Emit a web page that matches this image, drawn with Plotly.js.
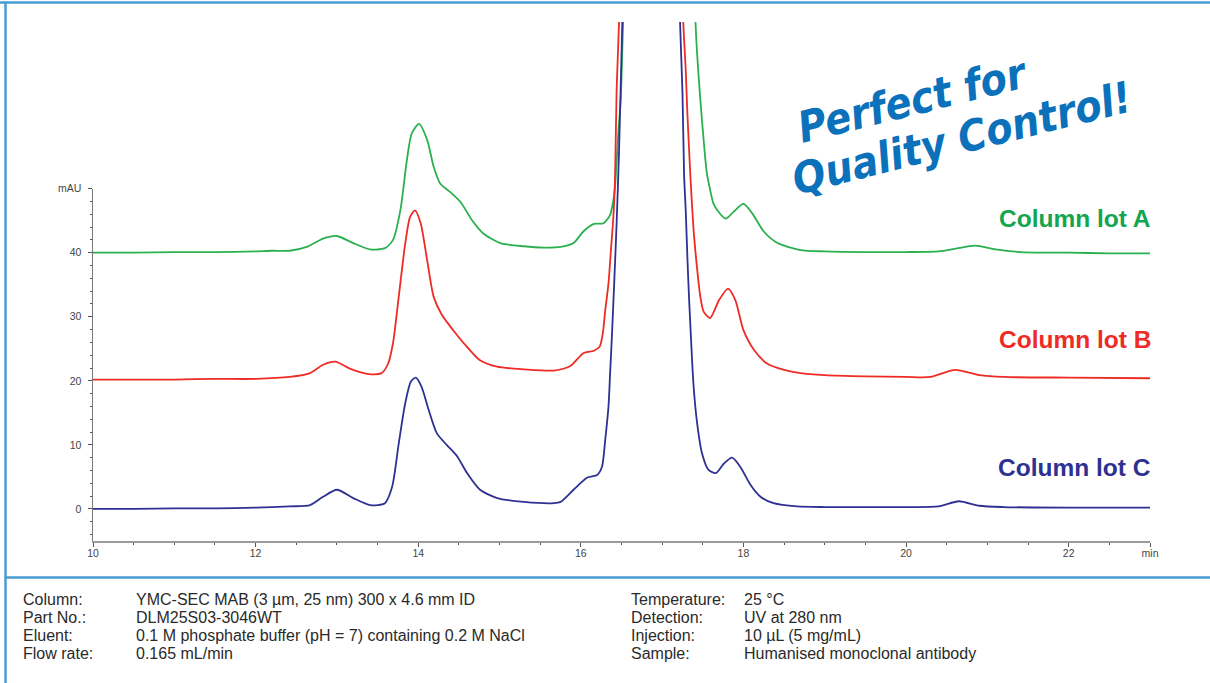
<!DOCTYPE html>
<html>
<head>
<meta charset="utf-8">
<script src="https://cdn.plot.ly/plotly-3.0.1.min.js"></script>
<style>
html,body{margin:0;padding:0;background:#fff;}
#chart{width:1210px;height:683px;}
</style>
</head>
<body>
<div id="chart"></div>
<script>
// ---- Data (retention time in min, signal in mAU as displayed, lots offset on the plot) ----
const timeA = [10.0,10.5,11.0,11.5,12.0,12.2,12.42,12.63,12.83,13.0,13.2,13.41,13.59,13.69,13.78,13.86,13.92,14.01,14.11,14.19,14.27,14.39,14.52,14.66,14.80,15.01,15.30,15.55,15.75,15.91,16.03,16.16,16.28,16.36,16.40,16.42,16.46,16.49,16.52,16.56,17.0,17.38,17.41,17.43,17.47,17.51,17.55,17.59,17.63,17.68,17.78,17.88,18.0,18.11,18.25,18.42,18.7,19.0,19.5,20.0,20.4,20.6,20.85,21.1,21.4,22.0,22.5,23.0];
const lotA  = [40.0,40.0,40.1,40.1,40.2,40.3,40.3,40.9,42.2,42.6,41.5,40.5,40.7,42.0,46.6,54.4,58.6,60.1,57.6,53.4,50.8,49.5,47.9,45.1,43.0,41.5,41.0,40.8,40.9,41.5,43.3,44.5,44.6,45.9,48.2,50.2,58.6,63.8,76,90,95,90,76,71,63.8,57.6,52.4,49.8,47.7,46.6,45.3,46.4,47.6,46.1,43.3,41.5,40.4,40.2,40.1,40.1,40.2,40.6,41.1,40.5,40.1,40.0,39.9,39.9];

const timeB = [10.0,10.5,11.0,11.5,12.0,12.42,12.67,12.83,12.98,13.16,13.37,13.55,13.63,13.69,13.76,13.84,13.90,13.96,14.03,14.11,14.19,14.29,14.43,14.60,14.76,14.97,15.30,15.67,15.87,16.03,16.16,16.23,16.27,16.30,16.34,16.37,16.40,16.42,16.44,16.47,16.50,16.9,17.24,17.26,17.29,17.31,17.35,17.39,17.43,17.47,17.51,17.59,17.70,17.81,17.90,18.0,18.13,18.29,18.50,18.70,19.0,19.5,20.0,20.3,20.6,20.9,21.2,22.0,23.0];
const lotB  = [20.2,20.2,20.2,20.3,20.3,20.6,21.2,22.5,23.0,21.9,21.1,21.2,22.7,25.9,33.1,41.4,45.6,46.6,44.6,38.8,33.1,30.3,27.9,25.3,23.2,22.2,21.8,21.6,22.3,24.3,24.7,25.3,27.4,31.0,35.2,40.4,45.6,51.5,65.4,76,90,95,90,76,68.5,61.8,51.3,43.0,37.5,33.1,30.8,29.8,32.6,34.4,32.6,27.9,24.8,22.7,21.7,21.2,20.9,20.7,20.6,20.6,21.7,20.9,20.6,20.5,20.4];

const timeC = [10.0,10.5,11.0,11.5,12.0,12.42,12.67,12.83,13.0,13.2,13.41,13.59,13.68,13.76,13.84,13.91,13.97,14.04,14.13,14.23,14.35,14.48,14.60,14.76,14.97,15.30,15.67,15.75,15.91,16.08,16.20,16.26,16.30,16.34,16.36,16.38,16.41,16.44,16.47,16.51,16.54,16.9,17.2,17.22,17.25,17.27,17.29,17.31,17.33,17.35,17.37,17.39,17.43,17.49,17.57,17.66,17.76,17.86,17.96,18.09,18.21,18.37,18.66,19.0,19.5,20.0,20.4,20.65,20.9,21.2,22.0,23.0];
const lotC  = [0.0,0.0,0.1,0.1,0.2,0.4,0.6,1.9,3.0,1.7,0.6,0.9,3.5,10.2,16.5,19.9,20.5,19.1,15.4,11.8,10.0,8.2,5.6,3.0,1.7,1.1,0.9,1.1,3.0,4.9,5.3,6.6,10.8,16.0,21.2,26.4,35.2,44.6,56.0,76,90,95,90,76,65,52,46.6,39.4,33.1,27.9,22.7,18.6,13.4,8.7,6.1,5.6,7.1,8.0,6.6,3.7,1.9,0.9,0.4,0.3,0.3,0.3,0.4,1.2,0.5,0.3,0.2,0.2];

const seriesNames = ['Column lot A','Column lot B','Column lot C'];
const xTickVals = [10,12,14,16,18,20,22,23];
const xTickText = ['10','12','14','16','18','20','22','min'];
const yTickVals = [0,10,20,30,40,50];
const yTickText = ['0','10','20','30','40','mAU'];

const conditionsLeftLabels  = ['Column:','Part No.:','Eluent:','Flow rate:'];
const conditionsLeftValues  = ['YMC-SEC MAB (3 µm, 25 nm) 300 x 4.6 mm ID','DLM25S03-3046WT','0.1 M phosphate buffer (pH = 7) containing 0.2 M NaCl','0.165 mL/min'];
const conditionsRightLabels = ['Temperature:','Detection:','Injection:','Sample:'];
const conditionsRightValues = ['25 °C','UV at 280 nm','10 µL (5 mg/mL)','Humanised monoclonal antibody'];

// ---- Styling ----
const colA = '#2bb04f', colB = '#ee2b24', colC = '#2e3192';
const labA = '#13a550', labB = '#ee2b24', labC = '#2e3192';
const frame = '#4a9dd3';
const W = 1210, H = 683, L = 93, R = 60, T = 22, B = 142;
const pw = W - L - R, ph = H - T - B;
const px = v => (v - L) / pw;            // page pixel -> paper x
const py = v => (H - B - v) / ph;        // page pixel -> paper y

const yMin = -5, yMax = 76, axTop = 50;

const lineStyle = c => ({color: c, width: 1.8, shape: 'spline', smoothing: 0.7});
const traces = [
  {x: timeA, y: lotA, name: seriesNames[0], line: lineStyle(colA)},
  {x: timeB, y: lotB, name: seriesNames[1], line: lineStyle(colB)},
  {x: timeC, y: lotC, name: seriesNames[2], line: lineStyle(colC)}
].map(t => Object.assign(t, {type: 'scatter', mode: 'lines', xaxis: 'x', yaxis: 'y', hoverinfo: 'skip'}));
// empty trace so the visible (shorter) mAU axis subplot is rendered
traces.push({type: 'scatter', mode: 'lines', x: [], y: [], xaxis: 'x', yaxis: 'y2', hoverinfo: 'skip', showlegend: false});

const tickFont = {family: 'Liberation Sans, Arial, sans-serif', size: 10.5, color: '#444'};
const bodyFont = {family: 'Liberation Sans, Arial, sans-serif', size: 16, color: '#2a2a2a'};

const annotations = [];
const rowsY = [599, 617, 635, 653];
rowsY.forEach((yy, i) => {
  [[21, conditionsLeftLabels[i]], [134, conditionsLeftValues[i]], [629, conditionsRightLabels[i]], [742, conditionsRightValues[i]]].forEach(([xx, txt]) => {
    annotations.push({xref: 'paper', yref: 'paper', x: px(xx), y: py(yy), xanchor: 'left', yanchor: 'middle',
      text: txt, showarrow: false, font: bodyFont});
  });
});
[[218, seriesNames[0], labA], [339, seriesNames[1], labB], [467, seriesNames[2], labC]].forEach(([yy, txt, c]) => {
  annotations.push({xref: 'paper', yref: 'paper', x: px(1153), y: py(yy), xanchor: 'right', yanchor: 'middle',
    text: '<b>' + txt + '</b>', showarrow: false,
    font: {family: 'Liberation Sans, Arial, sans-serif', size: 24.5, color: c}});
});
const sloganFont = {family: 'Liberation Sans Narrow, DejaVu Sans Condensed, Liberation Sans, sans-serif', size: 43, color: '#0b71bb', weight: 700, style: 'italic'};
annotations.push({xref: 'paper', yref: 'paper', x: px(913), y: py(100), xanchor: 'center', yanchor: 'middle',
  text: 'Perfect for', showarrow: false, textangle: -14, font: sloganFont});
annotations.push({xref: 'paper', yref: 'paper', x: px(962), y: py(138), xanchor: 'center', yanchor: 'middle',
  text: 'Quality Control!', showarrow: false, textangle: -14, font: sloganFont});

const shapes = [
  {type: 'line', xref: 'paper', yref: 'paper', x0: px(0), x1: px(W), y0: py(2.5), y1: py(2.5), line: {color: frame, width: 2.5}},
  {type: 'line', xref: 'paper', yref: 'paper', x0: px(5.5), x1: px(5.5), y0: py(2), y1: py(H), line: {color: frame, width: 2.5}},
  {type: 'line', xref: 'paper', yref: 'paper', x0: px(5), x1: px(W), y0: py(577.5), y1: py(577.5), line: {color: frame, width: 2.5}}
];

const layout = {
  width: W, height: H,
  margin: {l: L, r: R, t: T, b: B, pad: 0},
  paper_bgcolor: '#fff', plot_bgcolor: 'rgba(0,0,0,0)',
  showlegend: false,
  hovermode: false,
  xaxis: {
    range: [10, 23], anchor: 'y2', showgrid: false, zeroline: false,
    showline: true, linecolor: '#9a9a9a', linewidth: 2,
    tickmode: 'array', tickvals: xTickVals, ticktext: xTickText,
    ticks: 'outside', ticklen: 4, tickwidth: 1, tickcolor: '#555',
    ticklabelstandoff: -3,
    minor: {dtick: 0.5, tick0: 10, ticks: 'outside', ticklen: 2, tickcolor: '#555', showgrid: false},
    tickfont: tickFont, fixedrange: true
  },
  yaxis: {
    domain: [0, 1], range: [yMin, yMax], anchor: 'x',
    visible: false, showgrid: false, zeroline: false, fixedrange: true
  },
  yaxis2: {
    domain: [0, (axTop - yMin) / (yMax - yMin)], range: [yMin, axTop], anchor: 'x',
    showgrid: false, zeroline: false, showline: true, linecolor: '#777', linewidth: 1.5,
    tickmode: 'array', tickvals: yTickVals, ticktext: yTickText,
    ticks: 'outside', ticklen: 4, tickwidth: 1, tickcolor: '#555',
    ticklabelstandoff: 4,
    minor: {dtick: 2, tick0: 0, ticks: 'outside', ticklen: 2, tickcolor: '#555', showgrid: false},
    tickfont: tickFont, fixedrange: true
  },
  annotations: annotations,
  shapes: shapes
};

Plotly.newPlot('chart', traces, layout, {displayModeBar: false, staticPlot: true});
</script>
</body>
</html>
